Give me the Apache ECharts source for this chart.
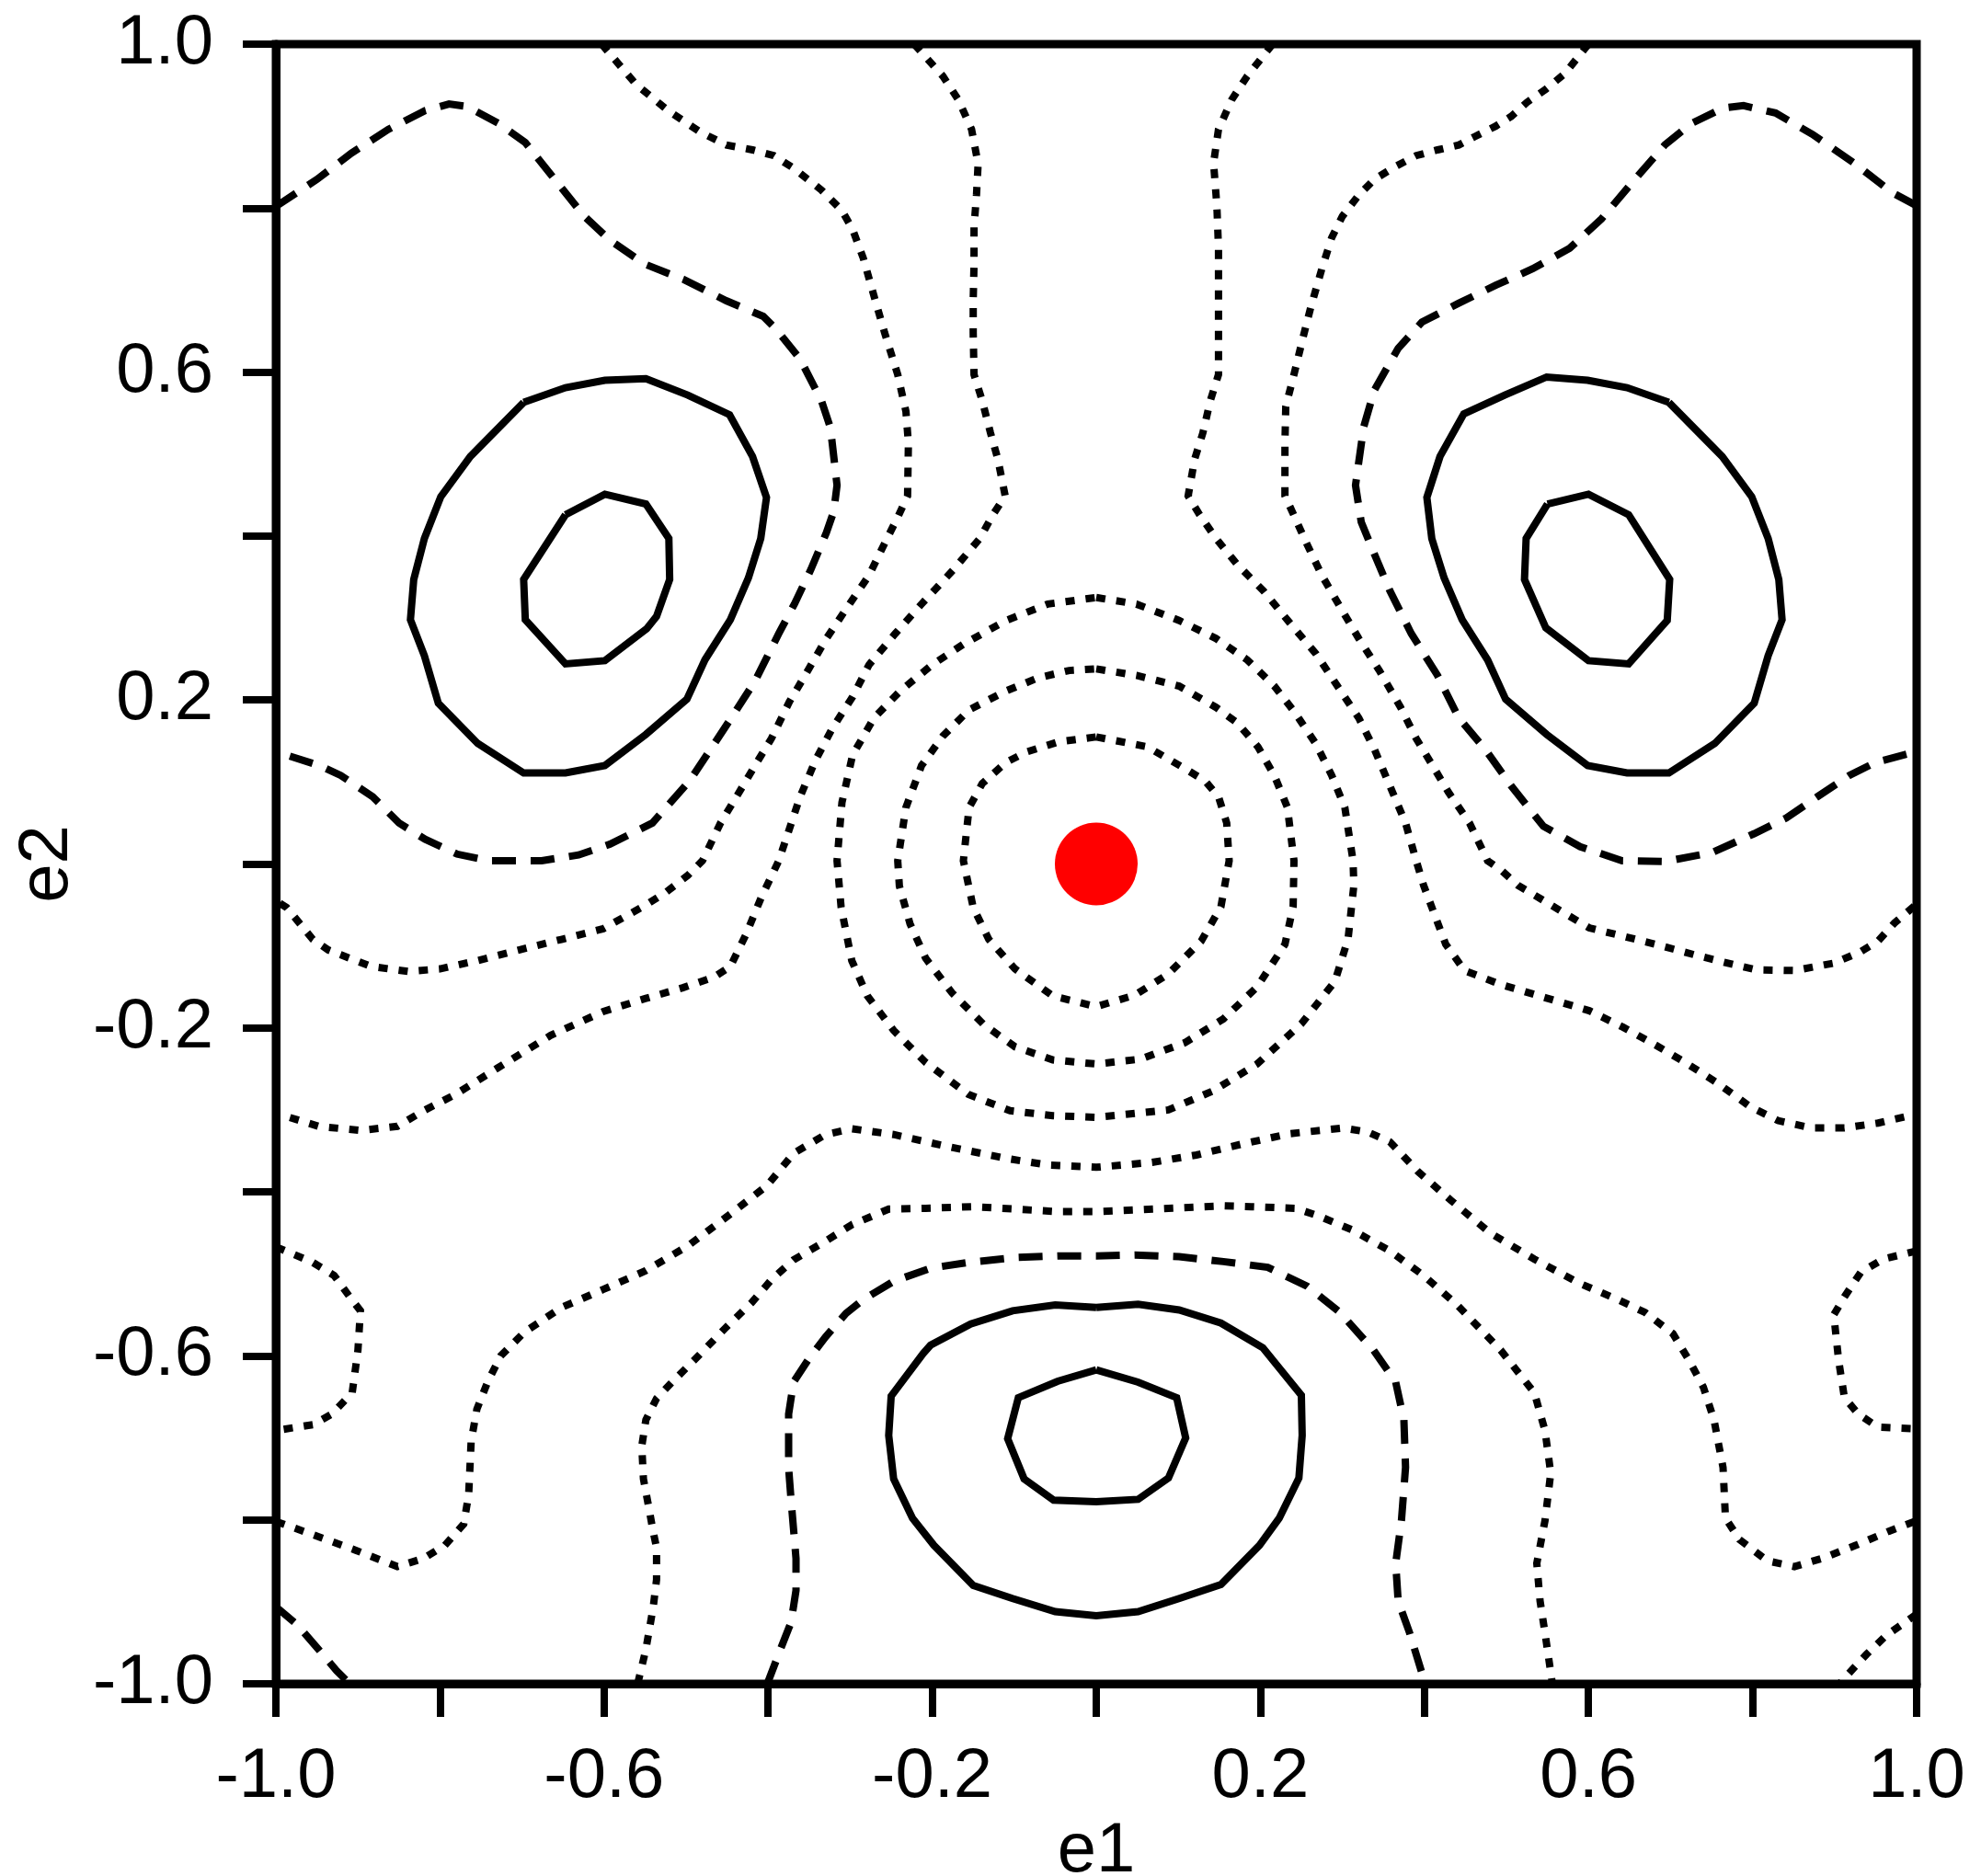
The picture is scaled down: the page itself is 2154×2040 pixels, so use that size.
<!DOCTYPE html>
<html>
<head>
<meta charset="utf-8">
<title>e1 / e2 contours</title>
<script src="https://cdn.jsdelivr.net/npm/echarts@6/dist/echarts.min.js"></script>
<style>
  html, body { margin: 0; padding: 0; background: #fff; }
  #main { width: 2154px; height: 2040px; }
</style>
</head>
<body>
<div id="main"></div>
<script>
// tick labels shown on both axes
var xTickLabels = ['-1.0', '-0.6', '-0.2', '0.2', '0.6', '1.0'];
var yTickLabels = ['-1.0', '-0.6', '-0.2', '0.2', '0.6', '1.0'];

// minimum marker
var centerPoint = [[0, 0]];

// solid contours
var solidInnerTL = [[-0.647,0.426],[-0.599,0.451],[-0.549,0.439],[-0.521,0.397],[-0.520,0.347],[-0.536,0.302],[-0.548,0.287],[-0.599,0.248],[-0.647,0.244],[-0.696,0.298],[-0.698,0.347],[-0.647,0.426]];
var solidInnerTR = [[0.550,0.439],[0.600,0.451],[0.649,0.426],[0.699,0.347],[0.696,0.297],[0.649,0.244],[0.600,0.248],[0.548,0.288],[0.522,0.347],[0.524,0.397],[0.550,0.439]];
var solidOuterTL = [[-0.698,0.563],[-0.647,0.581],[-0.599,0.590],[-0.549,0.592],[-0.498,0.572],[-0.447,0.548],[-0.419,0.497],[-0.402,0.447],[-0.409,0.397],[-0.424,0.349],[-0.446,0.298],[-0.477,0.249],[-0.499,0.201],[-0.549,0.158],[-0.599,0.120],[-0.647,0.111],[-0.698,0.111],[-0.754,0.147],[-0.802,0.196],[-0.819,0.254],[-0.836,0.298],[-0.832,0.347],[-0.819,0.397],[-0.799,0.448],[-0.763,0.497],[-0.698,0.563]];
var solidOuterTR = [[0.698,0.563],[0.647,0.581],[0.599,0.590],[0.549,0.594],[0.498,0.572],[0.448,0.549],[0.419,0.497],[0.403,0.447],[0.409,0.397],[0.424,0.349],[0.446,0.298],[0.477,0.249],[0.499,0.201],[0.549,0.158],[0.599,0.120],[0.647,0.111],[0.698,0.111],[0.754,0.147],[0.802,0.196],[0.819,0.254],[0.836,0.298],[0.832,0.347],[0.819,0.397],[0.799,0.448],[0.763,0.497],[0.698,0.563]];
var solidInnerB = [[0,-0.617],[0.051,-0.632],[0.098,-0.651],[0.109,-0.700],[0.088,-0.749],[0.051,-0.775],[0,-0.778],[-0.052,-0.776],[-0.088,-0.750],[-0.108,-0.701],[-0.095,-0.651],[-0.047,-0.631],[0,-0.617]];
var solidOuterB = [[0,-0.541],[0.051,-0.537],[0.101,-0.544],[0.152,-0.560],[0.203,-0.590],[0.250,-0.648],[0.251,-0.697],[0.247,-0.749],[0.223,-0.798],[0.199,-0.831],[0.152,-0.879],[0.101,-0.896],[0.051,-0.912],[0,-0.917],[-0.050,-0.912],[-0.102,-0.896],[-0.150,-0.880],[-0.198,-0.831],[-0.224,-0.798],[-0.247,-0.750],[-0.253,-0.697],[-0.250,-0.649],[-0.211,-0.597],[-0.202,-0.587],[-0.153,-0.561],[-0.102,-0.545],[-0.050,-0.538],[0,-0.541]];

// dashed contours
var dashTL = [[-1.0,0.802],[-0.950,0.835],[-0.908,0.867],[-0.863,0.896],[-0.818,0.919],[-0.789,0.927],[-0.767,0.924],[-0.728,0.903],[-0.696,0.880],[-0.664,0.840],[-0.625,0.791],[-0.593,0.761],[-0.551,0.732],[-0.503,0.713],[-0.451,0.687],[-0.406,0.668],[-0.390,0.652],[-0.361,0.616],[-0.335,0.565],[-0.324,0.532],[-0.316,0.462],[-0.320,0.430],[-0.329,0.404],[-0.348,0.359],[-0.368,0.317],[-0.387,0.281],[-0.416,0.223],[-0.445,0.178],[-0.470,0.140],[-0.496,0.101],[-0.541,0.050],[-0.593,0.024],[-0.631,0.011],[-0.676,0.004],[-0.741,0.004],[-0.779,0.012],[-0.818,0.030],[-0.850,0.050],[-0.882,0.082],[-0.921,0.108],[-0.947,0.120],[-1.0,0.137]];
var dashTR = [[1.0,0.803],[0.970,0.819],[0.925,0.854],[0.873,0.890],[0.828,0.916],[0.789,0.925],[0.764,0.922],[0.725,0.903],[0.693,0.877],[0.654,0.832],[0.616,0.787],[0.577,0.751],[0.532,0.726],[0.487,0.706],[0.442,0.684],[0.397,0.661],[0.368,0.629],[0.339,0.578],[0.326,0.533],[0.316,0.462],[0.323,0.417],[0.339,0.378],[0.358,0.333],[0.384,0.281],[0.416,0.230],[0.442,0.178],[0.474,0.140],[0.506,0.095],[0.545,0.046],[0.590,0.021],[0.641,0.004],[0.693,0.003],[0.751,0.014],[0.802,0.037],[0.841,0.056],[0.879,0.082],[0.918,0.108],[0.950,0.124],[1.0,0.137]];
var dashB = [[-0.401,-1.0],[-0.385,-0.958],[-0.372,-0.925],[-0.366,-0.886],[-0.366,-0.847],[-0.372,-0.776],[-0.375,-0.737],[-0.375,-0.671],[-0.369,-0.632],[-0.350,-0.603],[-0.330,-0.577],[-0.305,-0.548],[-0.285,-0.532],[-0.247,-0.509],[-0.202,-0.493],[-0.156,-0.486],[-0.099,-0.480],[-0.047,-0.478],[0,-0.478],[0.047,-0.477],[0.101,-0.479],[0.155,-0.485],[0.209,-0.492],[0.257,-0.515],[0.297,-0.547],[0.338,-0.593],[0.365,-0.632],[0.375,-0.678],[0.377,-0.736],[0.372,-0.801],[0.365,-0.853],[0.368,-0.899],[0.382,-0.938],[0.401,-1.0]];
var dashCornerBL = [[-1.0,-0.906],[-0.974,-0.928],[-0.948,-0.958],[-0.926,-0.984],[-0.910,-1.0]];

// dotted contours
var dotOuterTL = [[-0.603,1.0],[-0.561,0.951],[-0.522,0.919],[-0.483,0.893],[-0.451,0.877],[-0.419,0.871],[-0.393,0.864],[-0.368,0.848],[-0.335,0.822],[-0.310,0.797],[-0.297,0.774],[-0.284,0.739],[-0.271,0.693],[-0.258,0.648],[-0.242,0.597],[-0.232,0.552],[-0.229,0.513],[-0.230,0.449],[-0.242,0.423],[-0.258,0.391],[-0.277,0.352],[-0.303,0.314],[-0.329,0.275],[-0.355,0.230],[-0.374,0.198],[-0.396,0.153],[-0.416,0.120],[-0.435,0.088],[-0.458,0.050],[-0.480,0.004],[-0.498,-0.014],[-0.524,-0.034],[-0.549,-0.050],[-0.601,-0.079],[-0.652,-0.092],[-0.704,-0.105],[-0.755,-0.118],[-0.800,-0.128],[-0.839,-0.131],[-0.884,-0.125],[-0.936,-0.105],[-0.955,-0.092],[-0.987,-0.053],[-1.0,-0.045]];
var dotOuterTR = [[0.600,1.0],[0.571,0.964],[0.548,0.945],[0.525,0.929],[0.506,0.912],[0.487,0.900],[0.461,0.887],[0.442,0.877],[0.416,0.871],[0.390,0.864],[0.365,0.851],[0.339,0.835],[0.320,0.816],[0.300,0.790],[0.287,0.764],[0.275,0.726],[0.262,0.681],[0.252,0.642],[0.241,0.597],[0.231,0.558],[0.230,0.513],[0.230,0.449],[0.242,0.423],[0.255,0.394],[0.275,0.352],[0.297,0.314],[0.320,0.275],[0.345,0.236],[0.371,0.191],[0.390,0.153],[0.410,0.120],[0.429,0.088],[0.455,0.050],[0.477,0.004],[0.493,-0.007],[0.514,-0.026],[0.541,-0.042],[0.574,-0.062],[0.601,-0.078],[0.642,-0.088],[0.682,-0.098],[0.730,-0.111],[0.770,-0.121],[0.804,-0.129],[0.851,-0.130],[0.899,-0.121],[0.932,-0.107],[0.953,-0.094],[0.973,-0.072],[1.0,-0.049]];
var dotInnerTL = [[-0.222,1.0],[-0.187,0.961],[-0.168,0.932],[-0.152,0.896],[-0.144,0.854],[-0.146,0.816],[-0.149,0.777],[-0.149,0.732],[-0.150,0.687],[-0.150,0.648],[-0.149,0.597],[-0.139,0.565],[-0.129,0.526],[-0.120,0.494],[-0.111,0.449],[-0.126,0.426],[-0.142,0.397],[-0.174,0.359],[-0.213,0.317],[-0.245,0.281],[-0.277,0.243],[-0.297,0.204],[-0.322,0.165],[-0.342,0.127],[-0.361,0.082],[-0.374,0.043],[-0.387,0.004],[-0.408,-0.040],[-0.427,-0.086],[-0.446,-0.125],[-0.466,-0.138],[-0.504,-0.151],[-0.549,-0.164],[-0.601,-0.180],[-0.665,-0.209],[-0.730,-0.249],[-0.781,-0.281],[-0.820,-0.301],[-0.852,-0.320],[-0.897,-0.325],[-0.948,-0.320],[-1.0,-0.304]];
var dotInnerTR = [[0.215,1.0],[0.184,0.961],[0.165,0.932],[0.149,0.896],[0.143,0.855],[0.147,0.803],[0.149,0.751],[0.149,0.687],[0.149,0.597],[0.139,0.565],[0.130,0.526],[0.120,0.494],[0.112,0.449],[0.126,0.426],[0.146,0.397],[0.172,0.365],[0.204,0.333],[0.236,0.294],[0.268,0.256],[0.294,0.217],[0.320,0.178],[0.339,0.140],[0.358,0.095],[0.377,0.050],[0.390,0.004],[0.399,-0.026],[0.426,-0.098],[0.449,-0.130],[0.493,-0.147],[0.547,-0.163],[0.601,-0.179],[0.642,-0.199],[0.682,-0.221],[0.716,-0.241],[0.757,-0.267],[0.797,-0.296],[0.831,-0.313],[0.872,-0.322],[0.912,-0.322],[0.953,-0.316],[1.0,-0.305]];
var ring1 = [[0,0.155],[0.062,0.143],[0.107,0.117],[0.133,0.101],[0.149,0.082],[0.159,0.050],[0.162,0.004],[0.152,-0.052],[0.128,-0.094],[0.088,-0.134],[0.047,-0.160],[0,-0.174],[-0.053,-0.161],[-0.099,-0.128],[-0.131,-0.092],[-0.150,-0.053],[-0.162,0.004],[-0.155,0.069],[-0.139,0.098],[-0.110,0.124],[-0.084,0.137],[-0.046,0.149],[0,0.155]];
var ring2 = [[0,0.238],[0.049,0.230],[0.101,0.217],[0.146,0.191],[0.172,0.172],[0.197,0.143],[0.217,0.108],[0.233,0.069],[0.241,0.004],[0.240,-0.052],[0.230,-0.098],[0.196,-0.150],[0.155,-0.189],[0.108,-0.218],[0.054,-0.238],[0,-0.244],[-0.053,-0.239],[-0.099,-0.223],[-0.137,-0.196],[-0.176,-0.157],[-0.208,-0.115],[-0.227,-0.073],[-0.240,-0.027],[-0.242,0.004],[-0.232,0.069],[-0.213,0.120],[-0.187,0.156],[-0.155,0.188],[-0.110,0.211],[-0.071,0.227],[-0.033,0.236],[0,0.238]];
var ring3 = [[0,0.325],[0.049,0.317],[0.101,0.297],[0.146,0.275],[0.184,0.249],[0.217,0.217],[0.242,0.185],[0.268,0.146],[0.287,0.108],[0.303,0.069],[0.313,0.004],[0.314,-0.026],[0.307,-0.091],[0.291,-0.143],[0.250,-0.195],[0.196,-0.244],[0.142,-0.277],[0.088,-0.300],[0,-0.309],[-0.053,-0.307],[-0.105,-0.301],[-0.156,-0.281],[-0.208,-0.242],[-0.247,-0.203],[-0.279,-0.161],[-0.298,-0.118],[-0.311,-0.053],[-0.316,0.004],[-0.310,0.075],[-0.297,0.133],[-0.271,0.178],[-0.239,0.211],[-0.200,0.243],[-0.162,0.268],[-0.110,0.297],[-0.059,0.317],[0,0.325]];
var dotBandUpper = [[-1.0,-0.802],[-0.955,-0.818],[-0.903,-0.837],[-0.852,-0.857],[-0.820,-0.847],[-0.794,-0.831],[-0.771,-0.805],[-0.765,-0.769],[-0.762,-0.704],[-0.755,-0.665],[-0.742,-0.632],[-0.726,-0.600],[-0.697,-0.571],[-0.652,-0.541],[-0.601,-0.519],[-0.549,-0.496],[-0.498,-0.466],[-0.446,-0.427],[-0.401,-0.392],[-0.369,-0.353],[-0.330,-0.330],[-0.298,-0.323],[-0.247,-0.330],[-0.189,-0.343],[-0.111,-0.359],[-0.060,-0.367],[0,-0.370],[0.068,-0.364],[0.122,-0.355],[0.176,-0.342],[0.236,-0.329],[0.301,-0.322],[0.331,-0.327],[0.358,-0.339],[0.392,-0.375],[0.432,-0.410],[0.480,-0.450],[0.534,-0.482],[0.588,-0.511],[0.635,-0.531],[0.669,-0.547],[0.703,-0.573],[0.723,-0.606],[0.740,-0.638],[0.753,-0.678],[0.764,-0.736],[0.767,-0.798],[0.784,-0.824],[0.818,-0.850],[0.851,-0.857],[0.885,-0.847],[0.926,-0.831],[0.966,-0.814],[1.0,-0.801]];
var dotBandLower = [[-0.559,-1.0],[-0.549,-0.958],[-0.540,-0.906],[-0.536,-0.873],[-0.536,-0.834],[-0.540,-0.815],[-0.546,-0.782],[-0.552,-0.750],[-0.554,-0.710],[-0.549,-0.678],[-0.536,-0.652],[-0.517,-0.632],[-0.485,-0.600],[-0.453,-0.567],[-0.420,-0.535],[-0.395,-0.506],[-0.369,-0.483],[-0.330,-0.460],[-0.298,-0.440],[-0.253,-0.421],[-0.208,-0.420],[-0.150,-0.418],[-0.099,-0.421],[-0.047,-0.424],[0,-0.424],[0.088,-0.420],[0.155,-0.417],[0.189,-0.418],[0.243,-0.420],[0.270,-0.429],[0.311,-0.446],[0.358,-0.472],[0.399,-0.502],[0.439,-0.537],[0.493,-0.593],[0.534,-0.645],[0.547,-0.691],[0.554,-0.743],[0.547,-0.801],[0.537,-0.853],[0.541,-0.899],[0.547,-0.938],[0.556,-1.0]];
var dotLoopL = [[-1.0,-0.467],[-0.955,-0.486],[-0.929,-0.502],[-0.910,-0.528],[-0.897,-0.545],[-0.900,-0.593],[-0.907,-0.645],[-0.932,-0.671],[-0.955,-0.684],[-1.0,-0.691]];
var dotLoopR = [[1.0,-0.472],[0.959,-0.482],[0.932,-0.498],[0.912,-0.528],[0.899,-0.550],[0.905,-0.606],[0.912,-0.651],[0.929,-0.671],[0.953,-0.687],[1.0,-0.689]];
var dotCornerBR = [[1.0,-0.915],[0.963,-0.941],[0.939,-0.964],[0.912,-0.993],[0.906,-1.0]];

var solidLines = [solidInnerTL, solidInnerTR, solidOuterTL, solidOuterTR, solidInnerB, solidOuterB];
var dashedLines = [dashTL, dashTR, dashB, dashCornerBL];
var dottedLines = [dotOuterTL, dotOuterTR, dotInnerTL, dotInnerTR, ring1, ring2, ring3,
                   dotBandUpper, dotBandLower, dotLoopL, dotLoopR, dotCornerBR];

var dom = document.getElementById('main');
var myChart = echarts.init(dom, null, { renderer: 'canvas' });

function lineSeries(data, type) {
    return {
        type: 'line',
        data: data,
        showSymbol: false,
        symbol: 'none',
        smooth: false,
        silent: true,
        animation: false,
        lineStyle: {
            color: '#000',
            width: 8,
            type: type,
            cap: 'butt',
            join: 'miter'
        },
        z: 3
    };
}

var series = [];
solidLines.forEach(function (d) { series.push(lineSeries(d, 'solid')); });
dashedLines.forEach(function (d) { series.push(lineSeries(d, [26, 16])); });
dottedLines.forEach(function (d) { series.push(lineSeries(d, [10, 12])); });
series.push({
    type: 'scatter',
    data: centerPoint,
    symbol: 'circle',
    symbolSize: 90,
    itemStyle: { color: '#ff0000', opacity: 1 },
    silent: true,
    animation: false,
    z: 5
});

function axisCommon(labels, name, nameGap, labelMargin) {
    return {
        type: 'value',
        min: -1,
        max: 1,
        interval: 0.2,
        name: name,
        nameLocation: 'middle',
        nameGap: nameGap,
        nameTextStyle: { fontFamily: 'Liberation Sans', fontSize: 76, color: '#000' },
        axisLine: { show: true, onZero: false, lineStyle: { color: '#000', width: 9 } },
        axisTick: { show: true, inside: false, length: 36, lineStyle: { color: '#000', width: 8 } },
        axisLabel: {
            show: true,
            margin: labelMargin,
            showMinLabel: true,
            showMaxLabel: true,
            fontFamily: 'Liberation Sans',
            fontSize: 76,
            color: '#000',
            formatter: function (v) {
                var s = Number(v).toFixed(1);
                return labels.indexOf(s) >= 0 ? s : '';
            }
        },
        splitLine: { show: false }
    };
}

option = {
    backgroundColor: '#fff',
    animation: false,
    grid: {
        left: 300,
        right: 70,
        top: 48,
        bottom: 209,
        containLabel: false,
        outerBoundsMode: 'none',
        show: true,
        borderColor: '#000',
        borderWidth: 9,
        backgroundColor: 'transparent'
    },
    xAxis: axisCommon(xTickLabels, 'e1', 129, 64),
    yAxis: axisCommon(yTickLabels, 'e2', 173, 68),
    series: series
};

if (option && typeof option === "object") {
    myChart.setOption(option, true);
}
</script>
</body>
</html>
